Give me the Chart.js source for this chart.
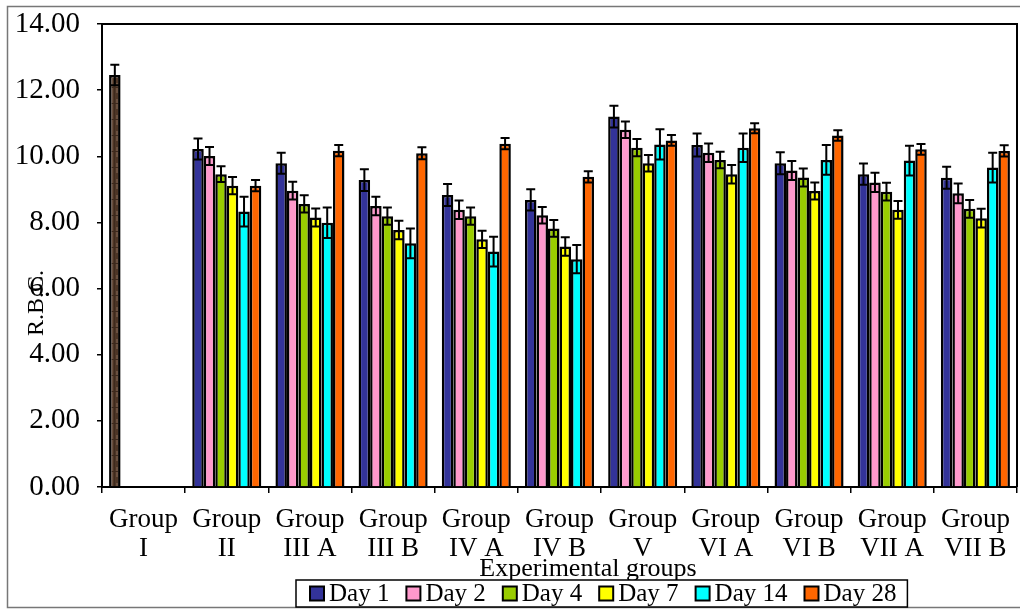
<!DOCTYPE html>
<html>
<head>
<meta charset="utf-8">
<script src="https://cdn.jsdelivr.net/npm/chart.js@4/dist/chart.umd.min.js"></script>
<style>
html,body{margin:0;padding:0;background:#fff;}
#wrap{width:1020px;height:610px;}
</style>
</head>
<body>
<div id="wrap"><canvas id="c" width="1020" height="610"></canvas></div>
<script>
const groups = [['Group','I'],['Group','II'],['Group','III A'],['Group','III B'],['Group','IV A'],['Group','IV B'],['Group','V'],['Group','VI A'],['Group','VI B'],['Group','VII A'],['Group','VII B']];
const seriesNames = ['Day 1','Day 2','Day 4','Day 7','Day 14','Day 28'];
const yTicks = [0,2,4,6,8,10,12,14];

const day1  = [12.46, 10.22, 9.79, 9.28, 8.83, 8.68, 11.20, 10.34, 9.79, 9.46, 9.35];
const day2  = [null, 10.01, 8.96, 8.50, 8.38, 8.22, 10.80, 10.11, 9.57, 9.21, 8.88];
const day4  = [null, 9.46, 8.56, 8.19, 8.19, 7.82, 10.26, 9.89, 9.36, 8.93, 8.41];
const day7  = [null, 9.11, 8.15, 7.77, 7.49, 7.27, 9.79, 9.46, 8.95, 8.38, 8.13];
const day14 = [null, 8.33, 7.99, 7.37, 7.12, 6.89, 10.36, 10.26, 9.89, 9.87, 9.66];
const day28 = [null, 9.11, 10.17, 10.09, 10.38, 9.38, 10.48, 10.85, 10.63, 10.21, 10.16];

const err1  = [0.31, 0.32, 0.32, 0.33, 0.33, 0.32, 0.33, 0.35, 0.33, 0.32, 0.33];
const err2  = [null, 0.27, 0.27, 0.28, 0.28, 0.25, 0.25, 0.28, 0.29, 0.29, 0.30];
const err4  = [null, 0.24, 0.26, 0.26, 0.26, 0.25, 0.26, 0.25, 0.27, 0.27, 0.27];
const err7  = [null, 0.26, 0.27, 0.28, 0.26, 0.28, 0.25, 0.28, 0.26, 0.27, 0.28];
const err14 = [null, 0.45, 0.46, 0.45, 0.45, 0.43, 0.46, 0.43, 0.45, 0.45, 0.45];
const err28 = [null, 0.17, 0.17, 0.18, 0.17, 0.17, 0.16, 0.15, 0.16, 0.16, 0.17];

const values = [day1, day2, day4, day7, day14, day28];
const errors = [err1, err2, err4, err7, err14, err28];
const colors = ['#333399','#FF99CC','#99CC00','#FFFF00','#00FFFF','#FF6600'];

const FONT = '"Liberation Serif", "Times New Roman", serif';

// textured brown fill for control group
function brownPattern(){
  const p = document.createElement('canvas');
  p.width = 12; p.height = 16;
  const g = p.getContext('2d');
  g.fillStyle = '#4e3626'; g.fillRect(0,0,12,16);
  g.fillStyle = '#6b5140'; g.fillRect(2,0,3,16); g.fillRect(8,3,2,10);
  g.fillStyle = '#3e2a1d'; g.fillRect(6,0,1,16); g.fillRect(0,7,12,1);
  return document.getElementById('c').getContext('2d').createPattern(p,'repeat');
}
const pat = brownPattern();

const datasets = values.map((v,i)=>({
  label: seriesNames[i],
  data: v,
  backgroundColor: i===0 ? v.map((_,j)=> j===0 ? pat : colors[0]) : colors[i],
  borderColor: '#000',
  borderWidth: 2.5,
  borderSkipped: 'bottom',
  categoryPercentage: 0.83,
  barPercentage: 1.0
}));

const errorBars = {
  id: 'errorBars',
  afterDatasetsDraw(chart){
    const ctx = chart.ctx, y = chart.scales.y;
    ctx.save();
    ctx.strokeStyle = '#000'; ctx.lineWidth = 2;
    chart.data.datasets.forEach((ds,i)=>{
      const meta = chart.getDatasetMeta(i);
      meta.data.forEach((el,j)=>{
        const v = ds.data[j], e = errors[i][j];
        if (v==null || e==null) return;
        const x = el.x, yt = y.getPixelForValue(v+e), yb = y.getPixelForValue(v-e);
        const hw = 4.5;
        ctx.beginPath();
        ctx.moveTo(x,yt); ctx.lineTo(x,yb);
        ctx.moveTo(x-hw,yt); ctx.lineTo(x+hw,yt);
        ctx.moveTo(x-hw,yb); ctx.lineTo(x+hw,yb);
        ctx.stroke();
      });
    });
    ctx.restore();
  }
};

const decor = {
  id: 'decor',
  beforeDraw(chart){
    const ctx = chart.ctx;
    ctx.save();
    ctx.fillStyle = '#fff'; ctx.fillRect(0,0,chart.width,chart.height);
    ctx.strokeStyle = '#777'; ctx.lineWidth = 1.5;
    ctx.strokeRect(7.5, 6.5, chart.width + 20, chart.height - 9);
    ctx.restore();
  },
  afterDraw(chart){
    const ctx = chart.ctx, a = chart.chartArea;
    ctx.save();
    ctx.strokeStyle = '#000'; ctx.lineWidth = 2;
    ctx.beginPath();
    ctx.moveTo(a.left, a.top); ctx.lineTo(a.right, a.top); ctx.lineTo(a.right, a.bottom);
    ctx.stroke();
    // y title
    ctx.fillStyle = '#000';
    ctx.font = '24px ' + FONT;
    ctx.translate(37, 303);
    ctx.rotate(-Math.PI/2);
    ctx.textAlign = 'center'; ctx.textBaseline = 'middle';
    ctx.fillText('R.B.C.', 0, 0);
    ctx.setTransform(1,0,0,1,0,0);
    // x title
    ctx.font = '26px ' + FONT;
    ctx.textAlign = 'center'; ctx.textBaseline = 'alphabetic';
    ctx.fillText('Experimental groups', 588, 576);
    // legend
    ctx.font = '25px ' + FONT;
    const sq = 14, gapTxt = 5, gapItem = 17;
    const widths = seriesNames.map(n => ctx.measureText(n).width);
    let total = 0;
    widths.forEach((w,i)=>{ total += sq + gapTxt + w + (i<widths.length-1?gapItem:0); });
    const startX = 310;
    const boxL = startX - 14, boxR = startX + total + 11;
    const boxT = 580, boxB = 607;
    ctx.fillStyle = '#fff';
    ctx.fillRect(boxL, boxT, boxR-boxL, boxB-boxT);
    ctx.strokeStyle = '#000'; ctx.lineWidth = 1.5;
    ctx.strokeRect(boxL, boxT, boxR-boxL, boxB-boxT);
    let x = startX;
    const my = (boxT+boxB)/2;
    seriesNames.forEach((n,i)=>{
      ctx.fillStyle = colors[i];
      ctx.fillRect(x, my-sq/2, sq, sq);
      ctx.strokeStyle = '#000'; ctx.lineWidth = 2;
      ctx.strokeRect(x, my-sq/2, sq, sq);
      ctx.fillStyle = '#000';
      ctx.textAlign = 'left'; ctx.textBaseline = 'middle';
      ctx.fillText(n, x + sq + gapTxt, my + 1);
      x += sq + gapTxt + widths[i] + gapItem;
    });
    ctx.restore();
  }
};

new Chart(document.getElementById('c'), {
  type: 'bar',
  data: { labels: groups, datasets },
  options: {
    responsive: false,
    animation: false,
    devicePixelRatio: 1,
    layout: { padding: { left: 0, right: 3, top: 24, bottom: 0 } },
    plugins: { legend: { display: false }, tooltip: { enabled: false } },
    scales: {
      x: {
        grid: { display: true, drawOnChartArea: false, offset: true, tickLength: 6, color: '#000', lineWidth: 1.5 },
        border: { display: true, color: '#000', width: 2 },
        ticks: { color: '#000', font: { family: FONT, size: 27, lineHeight: 1.08 }, padding: 12, maxRotation: 0, autoSkip: false },
        afterFit(s){ s.height = 123; s.paddingLeft = 0; s.paddingRight = 0; }
      },
      y: {
        min: 0, max: 14,
        afterBuildTicks(s){ s.ticks = yTicks.map(v=>({value:v})); },
        grid: { display: true, drawOnChartArea: false, tickLength: 5, color: '#000', lineWidth: 1.5 },
        border: { display: true, color: '#000', width: 2 },
        ticks: { color: '#000', font: { family: FONT, size: 29 }, padding: 17, callback: v => Number(v).toFixed(2) },
        afterFit(s){ s.width = 102; s.paddingTop = 0; s.paddingBottom = 0; }
      }
    }
  },
  plugins: [decor, errorBars]
});
</script>
</body>
</html>
